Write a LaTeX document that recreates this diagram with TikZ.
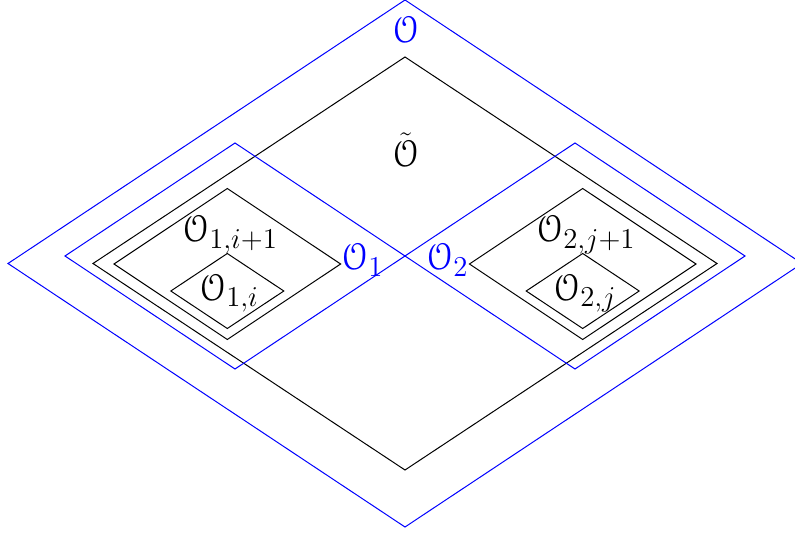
\documentclass[tikz,border=0pt]{standalone}
\usepackage{eucal}
\newcommand\rhomb[5]{\draw[#1] ({#2-#4},#3) -- (#2,{#3-#5}) -- ({#2+#4},#3) -- (#2,{#3+#5}) -- cycle;}
\begin{document}
\begin{tikzpicture}[x=0.5pt,y=-0.5pt,
  bl/.style={draw=blue,line width=0.5pt},
  bk/.style={draw=black,line width=0.5pt},
  lab/.style={inner sep=0pt,anchor=base west,font=\fontsize{19}{23}\selectfont}]
\useasboundingbox (0,0) rectangle (795,533);
\begin{scope}
\clip (0,0) rectangle (795,533);
\rhomb{bl}{405}{263.5}{397}{263.5}
\rhomb{bk}{405}{263.5}{312}{206.5}
\rhomb{bl}{235}{256}{170}{113}
\rhomb{bl}{575}{256}{170}{113}
\rhomb{bk}{227.3}{264}{113.3}{75.5}
\rhomb{bk}{227.3}{291}{56.5}{37.5}
\rhomb{bk}{582.7}{264}{113.3}{75.5}
\rhomb{bk}{582.7}{291}{56.5}{37.5}
\end{scope}
\node[lab,text=blue] (lO) at (392,43) {$\mathcal{O}$};
\node[lab] (lOt) at (392,167) {$\tilde{\mathcal{O}}$};
\node[lab,text=blue] (lO1) at (341,270) {$\mathcal{O}_1$};
\node[lab,text=blue] (lO2) at (426,270) {$\mathcal{O}_2$};
\node[lab] (lO1a) at (182,242) {$\mathcal{O}_{1,i+1}$};
\node[lab] (lO1b) at (199,300) {$\mathcal{O}_{1,i}$};
\node[lab] (lO2a) at (536,242) {$\mathcal{O}_{2,j+1}$};
\node[lab] (lO2b) at (553,300) {$\mathcal{O}_{2,j}$};
\end{tikzpicture}
\end{document}
